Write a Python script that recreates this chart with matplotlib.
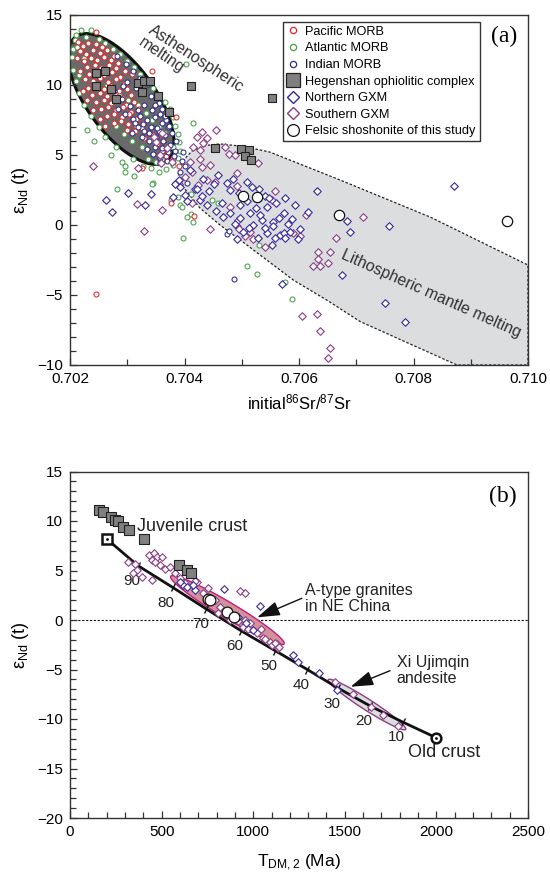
import numpy as np
import matplotlib
matplotlib.use('Agg')
import matplotlib.pyplot as plt
from matplotlib.lines import Line2D
from matplotlib.patches import Polygon
from matplotlib.markers import MarkerStyle
from matplotlib.transforms import Affine2D

plt.rcParams['font.family'] = ['Liberation Sans', 'DejaVu Sans']
plt.rcParams['mathtext.fontset'] = 'custom'
plt.rcParams['mathtext.rm'] = 'Liberation Sans'
plt.rcParams['mathtext.it'] = 'Liberation Sans:italic'

RED = '#e3262b'
GREEN = '#45a046'
INDIAN = '#2c2a8c'
NORTH = '#3527a0'
SOUTH = '#8c3b87'
HEG = '#808080'

# ---------------- (a) Sr-Nd isotopes ----------------
pacific = [
    (0.70214, 13.1), (0.70222, 12.8), (0.70232, 13.0), (0.70245, 12.9), (0.70256, 12.7), (0.70218, 12.4),
    (0.70228, 12.2), (0.70240, 12.5), (0.70252, 12.3), (0.70265, 12.5), (0.70212, 11.9), (0.70224, 11.7),
    (0.70236, 11.9), (0.70248, 11.8), (0.70260, 12.0), (0.70272, 11.8), (0.70230, 11.3), (0.70243, 11.4),
    (0.70255, 11.2), (0.70268, 11.4), (0.70280, 11.2), (0.70218, 11.0), (0.70234, 10.8), (0.70247, 10.9),
    (0.70260, 10.7), (0.70274, 10.9), (0.70288, 10.6), (0.70226, 10.4), (0.70240, 10.3), (0.70253, 10.5),
    (0.70266, 10.2), (0.70280, 10.4), (0.70294, 10.1), (0.70232, 9.8), (0.70246, 9.9), (0.70259, 9.7),
    (0.70272, 9.9), (0.70286, 9.6), (0.70300, 9.7), (0.70238, 9.3), (0.70252, 9.4), (0.70265, 9.2),
    (0.70278, 9.4), (0.70292, 9.1), (0.70306, 9.3), (0.70246, 8.8), (0.70259, 8.9), (0.70272, 8.7),
    (0.70285, 8.9), (0.70298, 8.6), (0.70312, 8.8), (0.70254, 8.3), (0.70267, 8.4), (0.70280, 8.2),
    (0.70293, 8.4), (0.70306, 8.1), (0.70320, 8.3), (0.70264, 7.8), (0.70277, 7.9), (0.70290, 7.7),
    (0.70303, 7.9), (0.70316, 7.6), (0.70276, 7.3), (0.70289, 7.4), (0.70302, 7.2), (0.70315, 7.1),
    (0.70328, 7.3), (0.70300, 6.8), (0.70313, 6.7), (0.70326, 6.9), (0.70338, 6.6), (0.70330, 6.2),
    (0.70345, 6.4), (0.70352, 5.8), (0.70360, 5.3), (0.70368, 4.9), (0.70378, 4.5), (0.70390, 4.2),
    (0.70325, 4.1), (0.70276, 12.1), (0.70284, 11.6), (0.70296, 11.0), (0.70223, 9.6), (0.70230, 8.9),
    (0.70240, 8.2), (0.70252, 7.6), (0.70262, 7.1), (0.70245, 13.8), (0.70343, 11.0), (0.70385, 7.7),
    (0.70245, -4.95), (0.70376, 1.6), (0.70417, 0.65), (0.70362, 6.1), (0.70380, 4.8), (0.70308, 10.8),
    (0.70318, 9.9),
]
atlantic = [
    (0.70210, 13.6), (0.70220, 13.9), (0.70236, 13.95), (0.70208, 13.2), (0.70206, 12.6), (0.70204, 12.0),
    (0.70212, 12.7), (0.70228, 13.4), (0.70250, 13.3), (0.70262, 13.0), (0.70275, 12.6), (0.70288, 12.2),
    (0.70300, 11.7), (0.70312, 11.3), (0.70322, 10.8), (0.70334, 10.3), (0.70345, 9.8), (0.70356, 9.3),
    (0.70366, 8.8), (0.70374, 8.3), (0.70380, 7.7), (0.70384, 7.1), (0.70388, 6.5), (0.70390, 5.9),
    (0.70393, 5.3), (0.70388, 4.8), (0.70380, 4.3), (0.70368, 4.0), (0.70355, 3.8), (0.70342, 4.1),
    (0.70328, 4.2), (0.70312, 3.5), (0.70296, 4.2), (0.70296, 3.8), (0.70345, 3.0), (0.70282, 2.6),
    (0.70344, 2.9), (0.70376, 1.8), (0.70392, 1.4), (0.70404, 0.6), (0.70414, 0.2), (0.70411, 0.8),
    (0.70448, 1.8), (0.70398, -0.9), (0.70510, -2.9), (0.70527, -3.5), (0.70531, -1.4), (0.70588, -5.3),
    (0.70576, -4.05), (0.70412, 2.2), (0.70420, 2.6), (0.70459, 1.55), (0.70389, 2.0), (0.70395, 1.3),
    (0.70403, 11.5), (0.70414, 7.3), (0.70272, 5.0), (0.70290, 4.5), (0.70310, 4.7), (0.70280, 5.6),
    (0.70262, 6.3), (0.70250, 7.0), (0.70236, 7.8), (0.70225, 8.6), (0.70216, 9.4), (0.70210, 10.3),
    (0.70206, 11.1), (0.70215, 10.7), (0.70225, 11.9), (0.70264, 10.0), (0.70285, 9.3), (0.70302, 8.9),
    (0.70318, 8.6), (0.70332, 8.0), (0.70344, 7.5), (0.70356, 7.0), (0.70366, 6.6), (0.70340, 6.1),
    (0.70325, 5.6), (0.70308, 6.0), (0.70295, 6.5), (0.70280, 7.1), (0.70336, 4.7), (0.70350, 4.5),
    (0.70360, 4.7), (0.70372, 5.2), (0.70380, 5.6), (0.70242, 6.0), (0.70230, 6.8),
]
indian = [
    (0.70282, 12.1), (0.70298, 11.5), (0.70310, 11.0), (0.70322, 10.5), (0.70336, 10.1), (0.70300, 10.2),
    (0.70315, 9.8), (0.70328, 9.4), (0.70342, 9.2), (0.70355, 8.7), (0.70290, 9.0), (0.70304, 8.5),
    (0.70318, 8.2), (0.70330, 8.6), (0.70344, 8.2), (0.70358, 7.9), (0.70368, 7.5), (0.70310, 7.6),
    (0.70322, 7.8), (0.70335, 7.5), (0.70348, 7.7), (0.70360, 7.3), (0.70372, 7.0), (0.70318, 7.0),
    (0.70330, 6.7), (0.70342, 7.0), (0.70355, 6.7), (0.70366, 6.4), (0.70378, 6.6), (0.70325, 6.3),
    (0.70338, 6.0), (0.70350, 6.3), (0.70362, 6.0), (0.70374, 5.7), (0.70385, 6.0), (0.70335, 5.4),
    (0.70348, 5.6), (0.70360, 5.5), (0.70372, 5.2), (0.70384, 5.3), (0.70345, 5.1), (0.70357, 4.8),
    (0.70370, 4.6), (0.70382, 4.9), (0.70395, 4.6), (0.70400, 4.2), (0.70392, 3.8), (0.70405, 3.0),
    (0.70392, 2.7), (0.70486, -3.88), (0.70475, -0.64), (0.70477, -0.45), (0.70373, 7.1), (0.70398, 5.2),
    (0.70378, 4.5), (0.70357, 4.5), (0.70296, 7.9), (0.70308, 6.6), (0.70284, 8.3), (0.70276, 9.6),
    (0.70292, 9.9), (0.70348, 8.6), (0.70360, 8.3), (0.70366, 7.8), (0.70352, 6.9), (0.70338, 6.6),
    (0.70328, 7.2), (0.70313, 7.3),
]
hegenshan_a = [
    (0.70245, 10.84), (0.70262, 11.02), (0.70245, 9.93), (0.70271, 9.71), (0.70280, 9.0), (0.70318, 10.12),
    (0.70329, 10.29), (0.70340, 10.29), (0.70325, 9.52), (0.70354, 9.21), (0.70373, 8.05), (0.70411, 9.95),
    (0.70553, 9.05), (0.70453, 5.52), (0.70498, 5.43), (0.70513, 5.38), (0.70505, 4.95), (0.70516, 4.66),
]
north_a = [
    (0.70263, 1.8), (0.70273, 0.9), (0.70302, 2.3), (0.70331, 1.4), (0.70341, 2.2), (0.70383, 2.9),
    (0.70410, 3.9), (0.70459, 3.6), (0.70485, 3.3), (0.70509, 3.1), (0.70518, 2.7), (0.70418, 2.6),
    (0.70442, 2.4), (0.70480, 2.5), (0.70631, 2.45), (0.70593, 1.45), (0.70427, 1.8), (0.70404, 1.7),
    (0.70392, 2.7), (0.70380, 2.0), (0.70465, 1.55), (0.70497, 1.45), (0.70514, 0.85), (0.70544, 1.3),
    (0.70573, 0.85), (0.70535, 0.35), (0.70555, 0.25), (0.70520, 0.0), (0.70497, 0.5), (0.70480, 0.85),
    (0.70488, 0.1), (0.70503, -0.5), (0.70544, -0.6), (0.70567, -0.7), (0.70602, -0.25), (0.70689, -0.5),
    (0.70683, 0.3), (0.70870, 2.8), (0.70757, -0.1), (0.70675, -3.6), (0.70750, -5.55), (0.70785, -6.95),
    (0.70570, -4.2), (0.70581, 0.1), (0.70573, -0.6), (0.70576, -0.95), (0.70555, -0.1), (0.70552, -1.45),
    (0.70588, 0.4), (0.70401, 2.15), (0.70421, 2.6), (0.70430, 2.1), (0.70474, 3.0), (0.70455, 1.0),
    (0.70468, 0.6), (0.70510, 1.7), (0.70525, 1.2), (0.70532, 0.7), (0.70540, 2.1), (0.70560, 1.6),
    (0.70565, 0.5), (0.70512, -0.2), (0.70528, -0.9), (0.70540, -0.2), (0.70558, -0.9), (0.70492, -1.0),
    (0.70452, 2.9), (0.70432, 3.3), (0.70390, 3.2), (0.70495, 2.3), (0.70530, 2.6), (0.70575, 1.9),
    (0.70615, 0.9), (0.70598, -1.0), (0.70439, 1.45), (0.70548, 1.9), (0.70585, -0.5),
]
south_a = [
    (0.70455, 6.8), (0.70430, 6.65), (0.70421, 6.3), (0.70439, 6.2), (0.70433, 5.85), (0.70415, 5.55),
    (0.70427, 5.35), (0.70471, 5.55), (0.70477, 5.1), (0.70427, 4.75), (0.70410, 4.5), (0.70445, 4.3),
    (0.70529, 4.45), (0.70491, 2.8), (0.70360, 1.05), (0.70439, 3.25), (0.70430, 4.15), (0.70413, 3.8),
    (0.70453, 3.1), (0.70386, 3.0), (0.70558, 2.4), (0.70552, 1.8), (0.70445, -0.3), (0.70360, 6.55),
    (0.70347, 6.3), (0.70351, 5.95), (0.70357, 5.0), (0.70359, 4.45), (0.70378, 4.5), (0.70241, 4.25),
    (0.70318, 4.05), (0.70488, 5.0), (0.70491, 3.7), (0.70424, 2.85), (0.70317, 1.5), (0.70330, -0.4),
    (0.70391, 2.95), (0.70413, 1.55), (0.70612, 0.7), (0.70602, -0.8), (0.70590, -0.6), (0.70712, 0.55),
    (0.70665, -0.95), (0.70634, -1.9), (0.70654, -1.9), (0.70634, -2.45), (0.70625, -2.95), (0.70637, -2.95),
    (0.70650, -2.7), (0.70605, -6.5), (0.70631, -6.35), (0.70637, -7.55), (0.70655, -8.75), (0.70651, -9.5),
    (0.70491, -0.1), (0.70494, 0.35), (0.70480, 1.3), (0.70496, -0.25), (0.70514, -0.5), (0.70520, -1.0),
    (0.70540, -1.55), (0.70505, -0.75), (0.70370, 5.5), (0.70400, 3.4),
]
felsic_a = [(0.70502, 2.1), (0.70526, 2.0), (0.70670, 0.7), (0.70964, 0.3)]

# lithospheric mantle melting field outline (Sr, eNd)
litho_field = [
    (0.70389, 3.69), (0.70398, 4.64), (0.70415, 5.36), (0.70439, 5.69), (0.70462, 5.79), (0.70497, 5.64),
    (0.70532, 5.36), (0.70549, 5.21), (0.70672, 3.21), (0.70829, 0.57), (0.71000, -2.86), (0.71000, -10.0),
    (0.70876, -10.0), (0.70707, -6.9), (0.70650, -5.4), (0.70590, -3.93), (0.70532, -2.14), (0.70502, -1.21),
    (0.70462, 0.0), (0.70427, 1.21), (0.70398, 2.7),
]

# ---------------- (b) T_DM2 vs eNd ----------------
hegenshan_b = [(160, 11.1), (182, 10.9), (222, 10.4), (245, 10.1), (262, 9.95), (291, 9.4), (324, 9.1),
               (404, 8.15), (597, 5.6), (637, 5.1), (659, 4.7)]
south_b = [
    (318, 5.9), (355, 5.7), (364, 5.05), (342, 4.7), (391, 4.3), (449, 4.0), (433, 6.55), (459, 6.75),
    (477, 6.4), (446, 6.05), (500, 6.4), (491, 5.55), (519, 5.2), (573, 4.7), (546, 5.4), (600, 4.2),
    (628, 3.7), (692, 3.8), (755, 3.2), (728, 2.7), (791, 2.0), (819, 1.35), (928, 2.9), (955, 2.7),
    (810, 0.7), (873, 0.0), (919, -0.15), (946, -0.7), (973, -0.95), (1019, -1.35), (1055, -1.85),
    (1092, -2.2), (1128, -2.45), (464, 5.9), (682, 3.9), (955, 0.0), (1064, -1.95), (1101, -2.55),
    (1137, -2.85), (1119, -2.35), (1143, -2.75), (900, 0.4), (985, -0.3), (1040, -0.9),
]
north_b = [(619, 3.55), (682, 3.0), (670, 3.55), (841, 3.1), (1037, 1.45), (1219, -3.55), (1246, -4.2),
           (1361, -5.4), (1456, -7.05), (915, 0.3), (960, -0.3), (1000, -1.0), (600, 3.8), (640, 3.3)]
xiujimqin_b = [(1446, -6.25), (1543, -7.45), (1643, -8.75), (1710, -9.55), (1792, -10.7)]
felsic_b = [(755, 2.1), (762, 2.0), (859, 0.8), (895, 0.3)]

# juvenile-old crust mixing curve (percent juvenile component)
mix_pct = [100, 90, 80, 70, 60, 50, 40, 30, 20, 10, 0]
mix_tdm = [200, 370, 560, 745, 935, 1120, 1295, 1465, 1640, 1815, 2000]
mix_end = [8.2, 5.5, 3.3, 1.1, -1.1, -3.1, -5.0, -6.9, -8.7, -10.3, -11.9]


def xy(pts):
    a = np.array(pts, dtype=float)
    return a[:, 0], a[:, 1]


def ellipse_px(ax, cx, cy, a_px, b_px, ang, n=160):
    # ellipse sized in screen pixels, tilted ang degrees below horizontal
    t = np.linspace(0, 2 * np.pi, n)
    th = np.radians(ang)
    u, v = a_px * np.cos(t), b_px * np.sin(t)
    dx = u * np.cos(th) + v * np.sin(th)
    dy = -u * np.sin(th) + v * np.cos(th)
    c = ax.transData.transform((cx, cy))
    return ax.transData.inverted().transform(np.column_stack([c[0] + dx, c[1] + dy]))


def style_axes(ax):
    for s in ax.spines.values():
        s.set_linewidth(1.0)
        s.set_color('#333333')
    ax.tick_params(which='both', direction='in', top=False, right=False, labelsize=11, width=0.9, color='#333333')
    ax.tick_params(which='major', length=5, pad=5)
    ax.tick_params(which='minor', length=4)


fig = plt.figure(figsize=(5.5, 8.77), dpi=100)

# ---------- panel (a) ----------
ax = fig.add_axes([70 / 550, (877 - 365) / 877, 458 / 550, 350 / 877])
ax.set_xlim(0.702, 0.710)
ax.set_ylim(-10, 15)
style_axes(ax)
ax.set_xticks(np.arange(0.702, 0.7101, 0.002))
ax.set_xticks(np.arange(0.703, 0.710, 0.002), minor=True)
ax.set_xticklabels(['%.3f' % v for v in np.arange(0.702, 0.7101, 0.002)])
ax.set_yticks(np.arange(-10, 16, 5))
ax.set_yticks(np.arange(-10, 16, 1), minor=True)

ax.add_patch(Polygon(litho_field, closed=True, facecolor='#dcdddf', edgecolor='#222222',
                     lw=0.9, ls=(0, (2, 1.5)), zorder=1))
astheno = ellipse_px(ax, 0.702891, 9.0, 77, 34, 54)
ax.add_patch(Polygon(astheno, closed=True, facecolor='#6a6a6a', edgecolor='#111111', lw=2.2, zorder=1.5))

ax.scatter(*xy(atlantic), s=13, facecolors='white', edgecolors=GREEN, linewidths=0.75, zorder=3)
ax.scatter(*xy(pacific), s=13, facecolors='white', edgecolors=RED, linewidths=0.75, zorder=3.1)
ax.scatter(*xy(indian), s=13, facecolors='white', edgecolors=INDIAN, linewidths=0.75, zorder=3.2)
ax.scatter(*xy(south_a), s=15, marker='D', facecolors='white', edgecolors=SOUTH, linewidths=0.8, zorder=3.3)
ax.scatter(*xy(north_a), s=15, marker='D', facecolors='white', edgecolors=NORTH, linewidths=0.8, zorder=3.4)
ax.scatter(*xy(hegenshan_a), s=38, marker='s', facecolors=HEG, edgecolors='#222222', linewidths=0.8, zorder=3.5)
ax.scatter(*xy(felsic_a), s=55, marker='o', facecolors='white', edgecolors='#111111', linewidths=0.9, zorder=3.6)

ax.text(0.7042, 11.86, 'Asthenospheric', rotation=-33, ha='center', va='center', fontsize=11.5,
        color='#333333', rotation_mode='anchor', zorder=4)
ax.text(0.7036, 12.14, 'melting', rotation=-34, ha='center', va='center', fontsize=11.5,
        color='#333333', rotation_mode='anchor', zorder=4)
ax.text(0.7083, -4.89, 'Lithospheric mantle melting', rotation=-24, ha='center', va='center', fontsize=11.5,
        color='#333333', rotation_mode='anchor', zorder=4)
ax.text(0.948, 0.94, '(a)', transform=ax.transAxes, fontsize=17, family='Liberation Serif',
        ha='center', va='center')

handles = [
    Line2D([], [], ls='none', marker='o', ms=4.5, mfc='none', mec=RED, mew=0.9, label='Pacific MORB'),
    Line2D([], [], ls='none', marker='o', ms=4.5, mfc='none', mec=GREEN, mew=0.9, label='Atlantic MORB'),
    Line2D([], [], ls='none', marker='o', ms=4.5, mfc='none', mec=INDIAN, mew=0.9, label='Indian MORB'),
    Line2D([], [], ls='none', marker='s', ms=10, mfc=HEG, mec='#222222', mew=0.9, label='Hegenshan ophiolitic complex'),
    Line2D([], [], ls='none', marker='D', ms=6.5, mfc='none', mec=NORTH, mew=1.0, label='Northern GXM'),
    Line2D([], [], ls='none', marker='D', ms=6.5, mfc='none', mec=SOUTH, mew=1.0, label='Southern GXM'),
    Line2D([], [], ls='none', marker='o', ms=8.5, mfc='white', mec='#111111', mew=0.9, label='Felsic shoshonite of this study'),
]
leg = ax.legend(handles=handles, loc='upper left', bbox_to_anchor=(0.465, 0.98), fontsize=9.2,
                frameon=True, fancybox=False, edgecolor='#333333', framealpha=1, handlelength=1.0,
                handletextpad=0.45, borderpad=0.3, labelspacing=0.36, borderaxespad=0)
leg.get_frame().set_linewidth(1.0)
leg.set_zorder(5)

ax.set_xlabel('initial$^{86}$Sr/$^{87}$Sr', fontsize=12, labelpad=5)
ax.set_ylabel('ε$_{\\mathrm{Nd}}$ (t)', fontsize=13)
ax.yaxis.set_label_coords(-0.085, 0.5)

# ---------- panel (b) ----------
bx = fig.add_axes([70 / 550, (877 - 818) / 877, 458 / 550, 346.5 / 877])
bx.set_xlim(0, 2500)
bx.set_ylim(-20, 15)
style_axes(bx)
bx.set_xticks(np.arange(0, 2501, 500))
bx.set_xticks(np.arange(0, 2501, 100), minor=True)
bx.set_yticks(np.arange(-20, 16, 5))
bx.set_yticks(np.arange(-20, 16, 1), minor=True)

bx.axhline(0, color='#111111', lw=0.8, ls=(0, (2, 1.5)), zorder=1)

atype = ellipse_px(bx, 859, 1.0, 66, 8, 30.8)
bx.add_patch(Polygon(atype, closed=True, facecolor='#d3929a', edgecolor='#c41a7e', lw=1.0, zorder=1.2))
xiu_field = ellipse_px(bx, 1621, -8.54, 46, 5.5, 32.7)
bx.add_patch(Polygon(xiu_field, closed=True, facecolor='#dcdddf', edgecolor='#8c3b87', lw=1.0, zorder=1.2))

bx.plot(mix_tdm, mix_end, color='#111111', lw=2.0, zorder=2)
tick_mark = MarkerStyle('|', transform=Affine2D().rotate_deg(-31))
bx.plot(mix_tdm[1:-1], mix_end[1:-1], ls='none', marker=tick_mark, ms=6, mec='#111111', mew=1.0, zorder=2)
for p, xt, yt in zip(mix_pct[1:-1], mix_tdm[1:-1], mix_end[1:-1]):
    bx.annotate(str(p), (xt, yt), xytext=(-4.5, -11), textcoords='offset points', ha='center',
                va='center', fontsize=11, color='#222222')

bx.plot(mix_tdm[0], mix_end[0], ls='none', marker='s', ms=6.5, mfc='white', mec='#111111', mew=1.8, zorder=4)
bx.plot(mix_tdm[0], mix_end[0], ls='none', marker='.', ms=2, color='#111111', zorder=4.1)
bx.plot(mix_tdm[-1], mix_end[-1], ls='none', marker='o', ms=7, mfc='white', mec='#111111', mew=1.8, zorder=4)
bx.plot(mix_tdm[-1], mix_end[-1], ls='none', marker='.', ms=2, color='#111111', zorder=4.1)

bx.scatter(*xy(south_b), s=15, marker='D', facecolors='white', edgecolors=SOUTH, linewidths=0.8, zorder=3)
bx.scatter(*xy(xiujimqin_b), s=15, marker='D', facecolors='white', edgecolors=SOUTH, linewidths=0.8, zorder=3)
bx.scatter(*xy(north_b), s=15, marker='D', facecolors='white', edgecolors=NORTH, linewidths=0.8, zorder=3.1)
bx.scatter(*xy(hegenshan_b), s=42, marker='s', facecolors=HEG, edgecolors='#222222', linewidths=0.8, zorder=3.2)
bx.scatter(*xy(felsic_b), s=60, marker='o', facecolors='white', edgecolors='#111111', linewidths=0.9, zorder=3.3)

bx.text(364, 9.42, 'Juvenile crust', ha='left', va='center', fontsize=13, color='#222222')
bx.text(1847, -13.4, 'Old crust', ha='left', va='center', fontsize=13, color='#222222')
bx.text(1283, 2.19, 'A-type granites\nin NE China', ha='left', va='center', fontsize=11.5,
        linespacing=1.1, color='#222222')
bx.text(1783, -5.1, 'Xi Ujimqin\nandesite', ha='left', va='center', fontsize=11.5,
        linespacing=1.1, color='#222222')
arrow = dict(arrowstyle='-|>,head_length=1.4,head_width=0.45', color='#111111', lw=1.0,
             shrinkA=0, shrinkB=0)
bx.annotate('', xy=(1022, 0.27), xytext=(1265, 2.19), arrowprops=arrow, zorder=4)
bx.annotate('', xy=(1532, -6.74), xytext=(1747, -5.12), arrowprops=arrow, zorder=4)
bx.text(0.945, 0.929, '(b)', transform=bx.transAxes, fontsize=17, family='Liberation Serif',
        ha='center', va='center')

bx.set_xlabel('T$_{\\mathrm{DM,2}}$ (Ma)', fontsize=12.5, labelpad=10)
bx.set_ylabel('ε$_{\\mathrm{Nd}}$ (t)', fontsize=13)
bx.yaxis.set_label_coords(-0.085, 0.5)

fig.savefig('out.png', dpi=100)
